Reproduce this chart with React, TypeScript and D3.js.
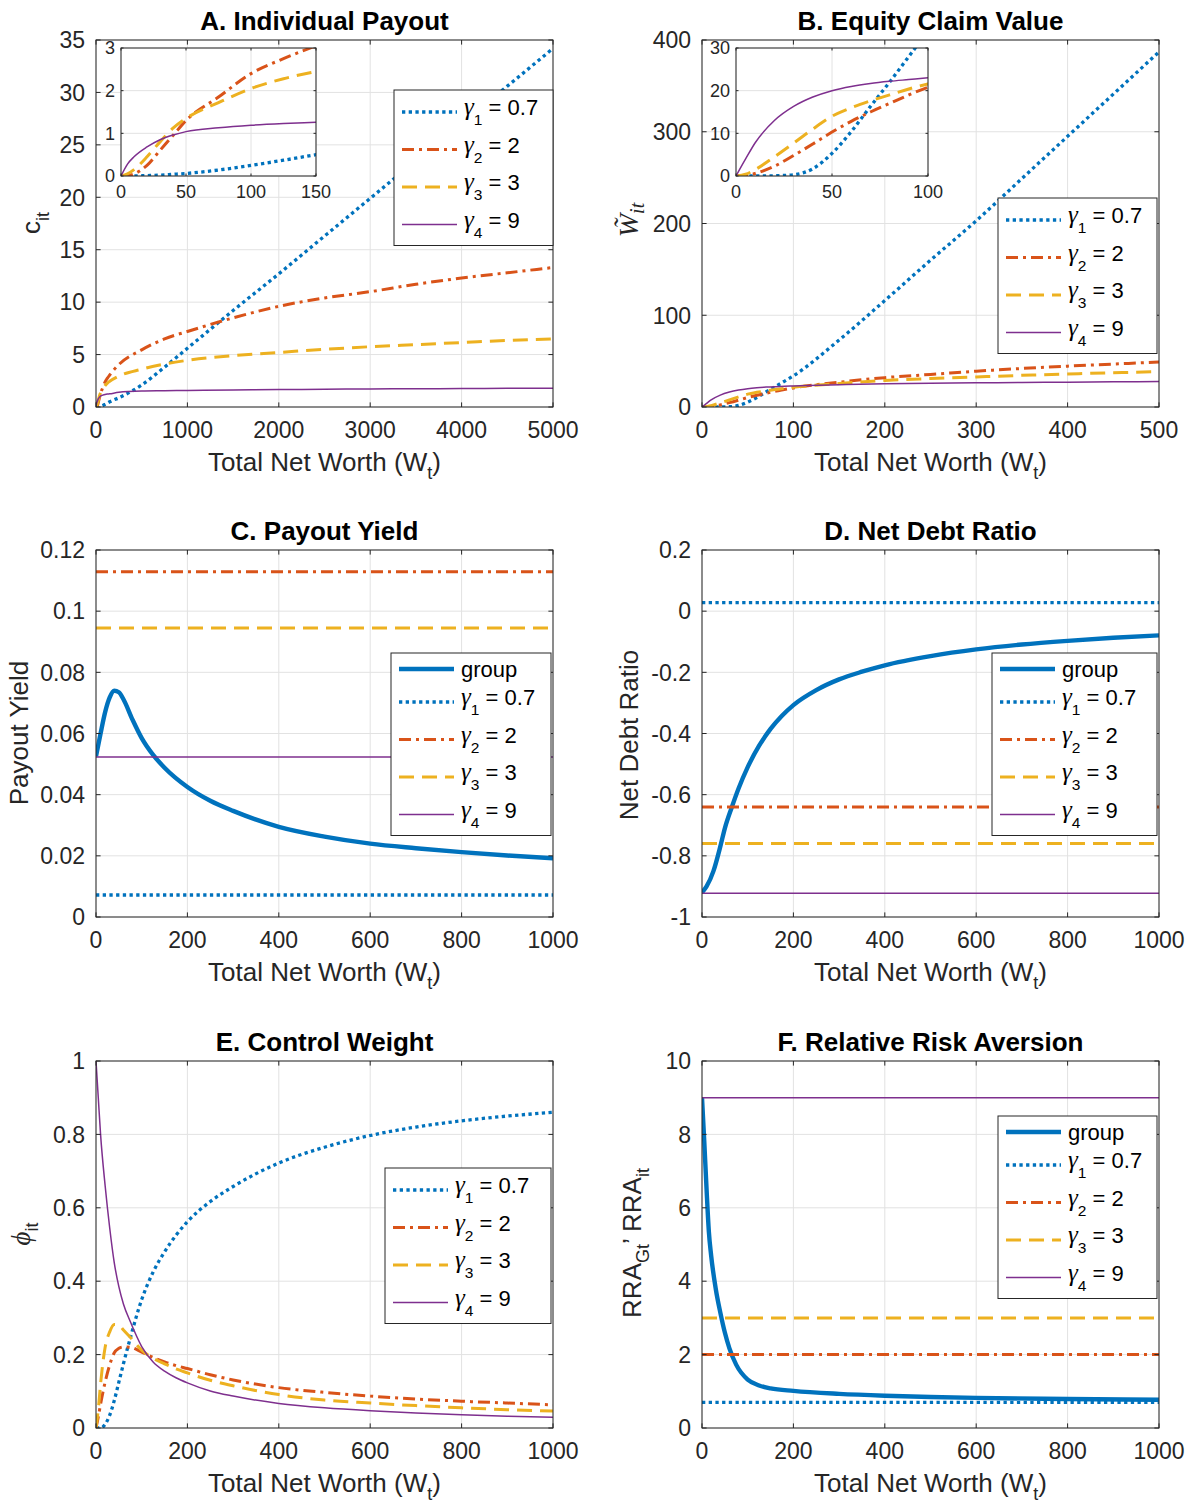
import React from 'react';
import * as d3 from 'd3';

const BLUE = '#0072BD';
const ORANGE = '#D95319';
const YELLOW = '#EDB120';
const PURPLE = '#7E2F8E';
const INK = '#262626';
const GRID = '#e2e2e2';
const FONT = '"Liberation Sans", Arial, Helvetica, sans-serif';
const SERIF = '"Liberation Serif", "DejaVu Serif", serif';

// legend values for the four investors
const gammaVals = ['0.7', '2', '3', '9'];

// A. Individual Payout
const aW = [0, 5, 10, 20, 30, 40, 50, 75, 100, 125, 150, 250, 500, 750, 1000, 1500, 2000, 2500, 3000, 3500, 4000, 4500, 5000];
const aG1 = [0, 0, 0, 0.01, 0.02, 0.04, 0.06, 0.14, 0.25, 0.37, 0.5, 0.88, 2.1, 3.8, 5.6, 9.2, 12.7, 16.3, 19.9, 23.5, 27.1, 30.6, 34.2];
const aG2 = [0, 0.01, 0.05, 0.25, 0.6, 0.95, 1.3, 1.85, 2.4, 2.75, 3.05, 4.05, 5.45, 6.5, 7.2, 8.5, 9.6, 10.4, 11.0, 11.7, 12.3, 12.8, 13.3];
const aG3 = [0, 0.05, 0.15, 0.45, 0.8, 1.12, 1.35, 1.72, 2.05, 2.28, 2.45, 2.95, 3.6, 4.1, 4.45, 4.9, 5.2, 5.5, 5.75, 5.95, 6.15, 6.35, 6.5];
const aG4 = [0, 0.28, 0.45, 0.68, 0.85, 0.96, 1.04, 1.13, 1.19, 1.23, 1.26, 1.4, 1.52, 1.55, 1.58, 1.63, 1.66, 1.69, 1.72, 1.74, 1.76, 1.78, 1.8];
const aXTicks = [0, 1000, 2000, 3000, 4000, 5000];
const aYTicks = [0, 5, 10, 15, 20, 25, 30, 35];
const aInXTicks = [0, 50, 100, 150];
const aInYTicks = [0, 1, 2, 3];

// B. Equity Claim Value
const bW = [0, 5, 10, 20, 30, 40, 50, 60, 70, 80, 90, 100, 150, 200, 250, 300, 350, 400, 450, 500];
const bG1 = [0, 0, 0, 0.05, 0.3, 1.7, 5.3, 10.4, 16.3, 22, 28, 34, 73, 116, 160, 203, 249, 295, 341, 387];
const bG2 = [0, 0.1, 0.6, 2.3, 4.8, 7.5, 10.3, 12.8, 15, 17, 19, 20.8, 27, 32, 35.5, 39, 42, 44.5, 46.8, 49];
const bG3 = [0, 0.4, 1.5, 4.5, 7.7, 11, 14, 16, 17.6, 19, 20.4, 21.6, 25.5, 29, 31, 32.8, 34.5, 36, 37.3, 38.5];
const bG4 = [0, 4, 7.8, 13, 16.3, 18.5, 20, 21, 21.7, 22.2, 22.6, 23, 24.3, 25.3, 25.8, 26.3, 26.7, 27, 27.4, 27.8];
const bXTicks = [0, 100, 200, 300, 400, 500];
const bYTicks = [0, 100, 200, 300, 400];
const bInXTicks = [0, 50, 100];
const bInYTicks = [0, 10, 20, 30];

// shared x range of panels C-F
const flatW = [0, 1000];
const kXTicks = [0, 200, 400, 600, 800, 1000];

// C. Payout Yield
const cW = [0, 10, 20, 30, 40, 50, 60, 80, 100, 125, 150, 200, 250, 300, 400, 500, 600, 700, 800, 900, 1000];
const cGroup = [0.0525, 0.06, 0.067, 0.0718, 0.074, 0.0735, 0.0712, 0.0645, 0.0585, 0.053, 0.0488, 0.0425, 0.038, 0.0347, 0.0295, 0.0263, 0.024, 0.0225, 0.0212, 0.0201, 0.0192];
const cFlat = [0.0072, 0.1129, 0.0945, 0.0523];
const cYTicks = [0, 0.02, 0.04, 0.06, 0.08, 0.1, 0.12];

// D. Net Debt Ratio
const dW = [0, 10, 25, 40, 50, 65, 80, 100, 125, 150, 175, 200, 250, 300, 350, 400, 500, 600, 700, 800, 900, 1000];
const dGroup = [-0.92, -0.9, -0.85, -0.77, -0.71, -0.642, -0.58, -0.51, -0.44, -0.385, -0.342, -0.307, -0.258, -0.223, -0.198, -0.177, -0.147, -0.125, -0.109, -0.097, -0.087, -0.079];
const dFlat = [0.028, -0.64, -0.76, -0.922];
const dYTicks = [-1, -0.8, -0.6, -0.4, -0.2, 0, 0.2];

// E. Control Weight
const eW = [0, 5, 10, 20, 30, 40, 50, 60, 75, 100, 125, 150, 175, 200, 250, 300, 400, 500, 600, 700, 800, 900, 1000];
const eG1 = [0, 0, 0, 0.01, 0.035, 0.075, 0.125, 0.175, 0.245, 0.35, 0.425, 0.48, 0.525, 0.562, 0.617, 0.658, 0.722, 0.765, 0.797, 0.82, 0.837, 0.85, 0.86];
const eG2 = [0, 0.03, 0.065, 0.125, 0.172, 0.205, 0.217, 0.221, 0.22, 0.207, 0.192, 0.18, 0.17, 0.162, 0.145, 0.131, 0.11, 0.097, 0.087, 0.079, 0.073, 0.068, 0.063];
const eG3 = [0, 0.05, 0.12, 0.22, 0.262, 0.282, 0.28, 0.267, 0.247, 0.212, 0.19, 0.175, 0.161, 0.15, 0.13, 0.115, 0.091, 0.076, 0.068, 0.061, 0.055, 0.05, 0.046];
const eG4 = [1, 0.9, 0.8, 0.66, 0.545, 0.45, 0.385, 0.338, 0.29, 0.222, 0.18, 0.155, 0.137, 0.123, 0.101, 0.087, 0.067, 0.055, 0.047, 0.041, 0.036, 0.032, 0.029];
const eYTicks = [0, 0.2, 0.4, 0.6, 0.8, 1];

// F. Relative Risk Aversion
const fW = [0, 5, 10, 15, 20, 30, 40, 50, 60, 75, 100, 125, 150, 200, 300, 400, 500, 600, 800, 1000];
const fGroup = [9.0, 7.8, 6.5, 5.35, 4.7, 3.8, 3.15, 2.6, 2.17, 1.72, 1.32, 1.16, 1.08, 1.01, 0.93, 0.88, 0.845, 0.82, 0.79, 0.77];
const fFlat = [0.7, 2, 3, 9];
const fYTicks = [0, 2, 4, 6, 8, 10];

type Style = { color: string; width: number; dash?: string };
const STYLE: Record<string, Style> = {
  group: { color: BLUE, width: 4.4 },
  g1: { color: BLUE, width: 3.3, dash: '3.3 3.4' },
  g2: { color: ORANGE, width: 3, dash: '12 5 3 5' },
  g3: { color: YELLOW, width: 3, dash: '15 8' },
  g4: { color: PURPLE, width: 1.5 },
};

type Series = { key: string; x: number[]; y: number[] };

const fmt = (v: number) => String(Math.round(v * 1000) / 1000);

type FrameProps = {
  id: string;
  left: number;
  top: number;
  w: number;
  h: number;
  xMax: number;
  xTicks: number[];
  yMin: number;
  yMax: number;
  yTicks: number[];
  series: Series[];
  fontSize: number;
  tickLen: number;
  yGap: number;
  xBase: number;
  fill?: boolean;
};

function Frame(p: FrameProps) {
  const x = d3.scaleLinear().domain([0, p.xMax]).range([p.left, p.left + p.w]);
  const y = d3.scaleLinear().domain([p.yMin, p.yMax]).range([p.top + p.h, p.top]);
  const line = d3
    .line<[number, number]>()
    .x((d) => x(d[0]))
    .y((d) => y(d[1]))
    .curve(d3.curveMonotoneX);
  const bottom = p.top + p.h;
  const right = p.left + p.w;
  return (
    <g>
      <defs>
        <clipPath id={p.id}>
          <rect x={p.left} y={p.top} width={p.w} height={p.h} />
        </clipPath>
      </defs>
      {p.fill && <rect x={p.left} y={p.top} width={p.w} height={p.h} fill="#fff" />}
      {p.xTicks.map((t) => (
        <line key={'gx' + t} x1={x(t)} x2={x(t)} y1={p.top} y2={bottom} stroke={GRID} strokeWidth={1} />
      ))}
      {p.yTicks.map((t) => (
        <line key={'gy' + t} x1={p.left} x2={right} y1={y(t)} y2={y(t)} stroke={GRID} strokeWidth={1} />
      ))}
      <g clipPath={`url(#${p.id})`}>
        {p.series.map((s, i) => {
          const st = STYLE[s.key];
          return (
            <path
              key={i}
              d={line(s.x.map((v, j) => [v, s.y[j]] as [number, number])) || ''}
              fill="none"
              stroke={st.color}
              strokeWidth={st.width}
              strokeDasharray={st.dash}
              strokeLinejoin="round"
            />
          );
        })}
      </g>
      <rect x={p.left} y={p.top} width={p.w} height={p.h} fill="none" stroke={INK} strokeWidth={1} />
      {p.xTicks.map((t) => (
        <g key={'tx' + t}>
          <line x1={x(t)} x2={x(t)} y1={bottom} y2={bottom - p.tickLen} stroke={INK} />
          <line x1={x(t)} x2={x(t)} y1={p.top} y2={p.top + p.tickLen} stroke={INK} />
          <text x={x(t)} y={bottom + p.xBase} textAnchor="middle" fontSize={p.fontSize} fill={INK}>
            {fmt(t)}
          </text>
        </g>
      ))}
      {p.yTicks.map((t) => (
        <g key={'ty' + t}>
          <line x1={p.left} x2={p.left + p.tickLen} y1={y(t)} y2={y(t)} stroke={INK} />
          <line x1={right} x2={right - p.tickLen} y1={y(t)} y2={y(t)} stroke={INK} />
          <text x={p.left - p.yGap} y={y(t)} dy="0.36em" textAnchor="end" fontSize={p.fontSize} fill={INK}>
            {fmt(t)}
          </text>
        </g>
      ))}
    </g>
  );
}

function Legend({ left, top, w, keys }: { left: number; top: number; w: number; keys: string[] }) {
  const rows: { key: string; y: number }[] = [];
  let yy = top + (keys[0] === 'group' ? 16 : 22);
  keys.forEach((k) => {
    rows.push({ key: k, y: yy });
    yy += k === 'group' ? 33 : 37.5;
  });
  const h = rows[rows.length - 1].y - top + 21;
  return (
    <g>
      <rect x={left} y={top} width={w} height={h} fill="#fff" stroke={INK} strokeWidth={1} />
      {rows.map((r) => {
        const st = STYLE[r.key];
        const gi = Number(r.key.slice(1)) - 1;
        return (
          <g key={r.key}>
            <line
              x1={left + 8}
              x2={left + 63}
              y1={r.y}
              y2={r.y}
              stroke={st.color}
              strokeWidth={st.width}
              strokeDasharray={st.dash}
            />
            {r.key === 'group' ? (
              <text x={left + 70} y={r.y + 7.5} fontSize={22} fill="#000">
                group
              </text>
            ) : (
              <text x={left + 70} y={r.y + 3} fontSize={22} fill="#000">
                <tspan fontFamily={SERIF} fontStyle="italic" fontSize={25}>
                  γ
                </tspan>
                <tspan dy={10} fontSize={15.5}>
                  {gi + 1}
                </tspan>
                <tspan dy={-10}>{' = ' + gammaVals[gi]}</tspan>
              </text>
            )}
          </g>
        );
      })}
    </g>
  );
}

type PanelProps = {
  id: string;
  left: number;
  top: number;
  title: string;
  xMax: number;
  xTicks: number[];
  yMin: number;
  yMax: number;
  yTicks: number[];
  series: Series[];
  ylabel: React.ReactNode;
  legend: { left: number; top: number; w: number; keys: string[] };
  inset?: { left: number; top: number; w: number; h: number; xMax: number; xTicks: number[]; yMax: number; yTicks: number[] };
};

const PW = 457;
const PH = 367;

function Panel(p: PanelProps) {
  const cx = p.left + PW / 2;
  return (
    <g>
      <Frame
        id={p.id}
        left={p.left}
        top={p.top}
        w={PW}
        h={PH}
        xMax={p.xMax}
        xTicks={p.xTicks}
        yMin={p.yMin}
        yMax={p.yMax}
        yTicks={p.yTicks}
        series={p.series}
        fontSize={23}
        tickLen={4.6}
        yGap={11}
        xBase={31}
      />
      {p.inset && (
        <Frame
          id={p.id + 'in'}
          left={p.inset.left}
          top={p.inset.top}
          w={p.inset.w}
          h={p.inset.h}
          xMax={p.inset.xMax}
          xTicks={p.inset.xTicks}
          yMin={0}
          yMax={p.inset.yMax}
          yTicks={p.inset.yTicks}
          series={p.series}
          fontSize={18}
          tickLen={2.5}
          yGap={6}
          xBase={22}
          fill
        />
      )}
      <Legend {...p.legend} />
      <text x={cx} y={p.top - 10} textAnchor="middle" fontSize={26} fontWeight="bold" fill="#000">
        {p.title}
      </text>
      <text x={cx} y={p.top + PH + 64} textAnchor="middle" fontSize={26} fill={INK}>
        Total Net Worth (W
        <tspan dy={8} fontSize={18}>
          t
        </tspan>
        <tspan dy={-8}>)</tspan>
      </text>
      {p.ylabel}
    </g>
  );
}

const four = (x: number[], ys: number[][]): Series[] =>
  ys.map((y, i) => ({ key: 'g' + (i + 1), x, y }));

const flat = (vals: number[]): Series[] => vals.map((v, i) => ({ key: 'g' + (i + 1), x: flatW, y: [v, v] }));

const rot = (x: number, y: number) => `translate(${x},${y}) rotate(-90)`;

export default function App() {
  const gammaKeys = ['g1', 'g2', 'g3', 'g4'];
  const allKeys = ['group', ...gammaKeys];
  return (
    <svg
      width={1195}
      height={1505}
      viewBox="0 0 1195 1505"
      style={{ position: 'absolute', left: 0, top: 0, background: '#fff' }}
      fontFamily={FONT}
    >
      <rect x={0} y={0} width={1195} height={1505} fill="#fff" />
      <Panel
        id="pa"
        left={96}
        top={40}
        title="A. Individual Payout"
        xMax={5000}
        xTicks={aXTicks}
        yMin={0}
        yMax={35}
        yTicks={aYTicks}
        series={four(aW, [aG1, aG2, aG3, aG4])}
        legend={{ left: 394, top: 90, w: 159, keys: gammaKeys }}
        inset={{ left: 121, top: 48, w: 195, h: 128, xMax: 150, xTicks: aInXTicks, yMax: 3, yTicks: aInYTicks }}
        ylabel={
          <text transform={rot(40, 223)} textAnchor="middle" fontSize={26} fill={INK}>
            c
            <tspan dy={9} fontSize={18}>
              it
            </tspan>
          </text>
        }
      />
      <Panel
        id="pb"
        left={702}
        top={40}
        title="B. Equity Claim Value"
        xMax={500}
        xTicks={bXTicks}
        yMin={0}
        yMax={400}
        yTicks={bYTicks}
        series={four(bW, [bG1, bG2, bG3, bG4])}
        legend={{ left: 998, top: 198, w: 159, keys: gammaKeys }}
        inset={{ left: 736, top: 48, w: 192, h: 128, xMax: 100, xTicks: bInXTicks, yMax: 30, yTicks: bInYTicks }}
        ylabel={
          <text transform={rot(638, 220)} textAnchor="middle" fontSize={28} fill={INK} fontFamily={SERIF} fontStyle="italic">
            {'W\u0303'}
            <tspan dy={6} fontSize={20}>
              it
            </tspan>
          </text>
        }
      />
      <Panel
        id="pc"
        left={96}
        top={550}
        title="C. Payout Yield"
        xMax={1000}
        xTicks={kXTicks}
        yMin={0}
        yMax={0.12}
        yTicks={cYTicks}
        series={[{ key: 'group', x: cW, y: cGroup }, ...flat(cFlat)]}
        legend={{ left: 391, top: 653, w: 160, keys: allKeys }}
        ylabel={
          <text transform={rot(28, 733)} textAnchor="middle" fontSize={26} fill={INK}>
            Payout Yield
          </text>
        }
      />
      <Panel
        id="pd"
        left={702}
        top={550}
        title="D. Net Debt Ratio"
        xMax={1000}
        xTicks={kXTicks}
        yMin={-1}
        yMax={0.2}
        yTicks={dYTicks}
        series={[{ key: 'group', x: dW, y: dGroup }, ...flat(dFlat)]}
        legend={{ left: 992, top: 653, w: 165, keys: allKeys }}
        ylabel={
          <text transform={rot(638, 735)} textAnchor="middle" fontSize={26} fill={INK}>
            Net Debt Ratio
          </text>
        }
      />
      <Panel
        id="pe"
        left={96}
        top={1061}
        title="E. Control Weight"
        xMax={1000}
        xTicks={kXTicks}
        yMin={0}
        yMax={1}
        yTicks={eYTicks}
        series={four(eW, [eG1, eG2, eG3, eG4])}
        legend={{ left: 385, top: 1168, w: 166, keys: gammaKeys }}
        ylabel={
          <text transform={rot(30, 1234)} textAnchor="middle" fontSize={27} fill={INK}>
            <tspan fontFamily={SERIF} fontStyle="italic">
              {'\u03D5'}
            </tspan>
            <tspan dy={8} fontSize={18}>
              it
            </tspan>
          </text>
        }
      />
      <Panel
        id="pf"
        left={702}
        top={1061}
        title="F. Relative Risk Aversion"
        xMax={1000}
        xTicks={kXTicks}
        yMin={0}
        yMax={10}
        yTicks={fYTicks}
        series={[{ key: 'group', x: fW, y: fGroup }, ...flat(fFlat)]}
        legend={{ left: 998, top: 1116, w: 159, keys: allKeys }}
        ylabel={
          <text transform={rot(641, 1243)} textAnchor="middle" fontSize={26} fill={INK}>
            RRA
            <tspan dy={8} fontSize={18}>
              Gt
            </tspan>
            <tspan dy={-8}>{'\u2019 RRA'}</tspan>
            <tspan dy={8} fontSize={18}>
              it
            </tspan>
          </text>
        }
      />
    </svg>
  );
}
